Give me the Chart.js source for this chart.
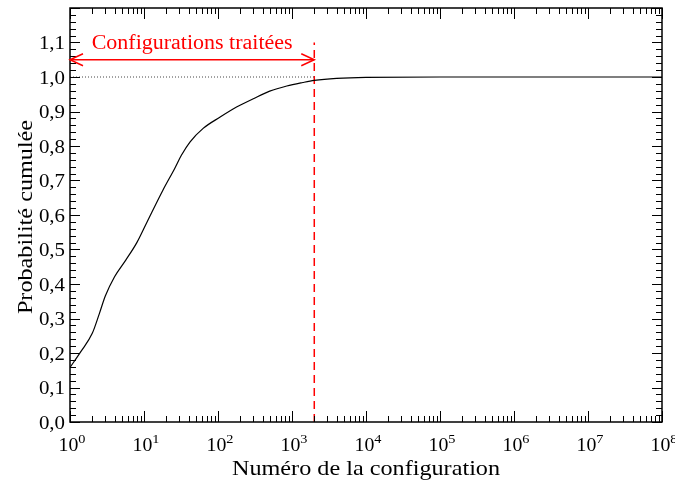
<!DOCTYPE html>
<html>
<head>
<meta charset="utf-8">
<script src="https://cdn.jsdelivr.net/npm/chart.js@4.4.0/dist/chart.umd.min.js"></script>
<style>
  html, body { margin: 0; padding: 0; background: #fff; }
  #wrap { width: 675px; height: 482px; }
</style>
</head>
<body>
<div id="wrap"><canvas id="cumul" width="675" height="482"></canvas></div>
<script>
// cumulative probability against configuration rank (log axis)
const configRank = [1, 1.4, 2, 2.5, 3, 4, 5.7, 8, 11, 18, 26, 32, 42, 63, 107, 178, 300, 500, 850, 1400, 2000, 4000, 10000, 1e5, 1e6, 1e7, 1e8];
const cumulProb  = [0.158, 0.204, 0.257, 0.315, 0.365, 0.421, 0.47, 0.52, 0.58, 0.672, 0.735, 0.773, 0.812, 0.851, 0.884, 0.913, 0.937, 0.959, 0.974, 0.984, 0.99, 0.996, 0.999, 1.0, 1.0, 1.0, 1.0];

const cutoffRank = 2000;   // last configuration processed
const arrowLevel = 1.05;
const cutoffTop = 1.1;
const yTickValues = [0, 0.1, 0.2, 0.3, 0.4, 0.5, 0.6, 0.7, 0.8, 0.9, 1.0, 1.1];
const xDecades = [0, 1, 2, 3, 4, 5, 6, 7, 8];
const spanLabel = 'Configurations traitées';
const xTitle = 'Numéro de la configuration';
const yTitle = 'Probabilité cumulée';

const SERIF = '"Liberation Serif", "DejaVu Serif", serif';
const STRETCH = 1.1;   // text is set a little wide

// draw text widened along its own direction
function wideText(ctx, text, x, y, align) {
  ctx.save();
  ctx.translate(x, y);
  ctx.scale(STRETCH, 1);
  ctx.textAlign = align || 'left';
  ctx.fillText(text, 0, 0);
  ctx.restore();
}

const framePlugin = {
  id: 'frame',
  afterDraw(chart) {
    const { ctx, chartArea: a, scales: { x, y } } = chart;
    ctx.save();
    ctx.strokeStyle = '#000';

    // inward ticks on all four sides
    ctx.lineWidth = 1;
    ctx.beginPath();
    for (let i = 0; i <= 60; i++) {
      const py = Math.round(y.getPixelForValue(i * 0.02)) + 0.5;
      const len = i % 5 === 0 ? 10 : 6;
      ctx.moveTo(a.left, py); ctx.lineTo(a.left + len, py);
      ctx.moveTo(a.right, py); ctx.lineTo(a.right - len, py);
    }
    for (const d of xDecades) {
      for (let m = 1; m <= 9; m++) {
        if (d === 8 && m > 1) break;
        const px = Math.round(x.getPixelForValue(m * Math.pow(10, d))) + 0.5;
        const len = m === 1 ? 11 : 6;
        ctx.moveTo(px, a.bottom); ctx.lineTo(px, a.bottom - len);
        ctx.moveTo(px, a.top); ctx.lineTo(px, a.top + len);
      }
    }
    ctx.stroke();

    // frame
    ctx.lineWidth = 1.5;
    ctx.strokeRect(a.left, a.top, a.right - a.left, a.bottom - a.top);

    ctx.fillStyle = '#000';
    ctx.textBaseline = 'alphabetic';

    // y tick labels with decimal comma
    ctx.font = '19px ' + SERIF;
    for (const v of yTickValues) {
      wideText(ctx, v.toFixed(1).replace('.', ','), a.left - 5, y.getPixelForValue(v) + 6.5, 'right');
    }

    // x tick labels as 10 with exponent
    for (const d of xDecades) {
      const px = x.getPixelForValue(Math.pow(10, d));
      ctx.font = '18px ' + SERIF;
      const wBase = ctx.measureText('10').width * STRETCH;
      ctx.font = '13px ' + SERIF;
      const wExp = ctx.measureText(String(d)).width * STRETCH;
      const left = px - (wBase + wExp) / 2 + 2;
      ctx.font = '18px ' + SERIF;
      wideText(ctx, '10', left, 451);
      ctx.font = '13px ' + SERIF;
      wideText(ctx, String(d), left + wBase, 443);
    }

    // axis titles
    ctx.font = '22px ' + SERIF;
    wideText(ctx, xTitle, (a.left + a.right) / 2, 475, 'center');
    ctx.save();
    ctx.translate(32, (a.top + a.bottom) / 2 + 2);
    ctx.rotate(-Math.PI / 2);
    wideText(ctx, yTitle, 0, 0, 'center');
    ctx.restore();

    // arrowheads and span label
    const ay = y.getPixelForValue(arrowLevel);
    const x0 = x.getPixelForValue(1);
    const x1 = x.getPixelForValue(cutoffRank);
    ctx.strokeStyle = '#ff0000';
    ctx.lineWidth = 1.5;
    ctx.beginPath();
    ctx.moveTo(x0 + 13, ay - 6); ctx.lineTo(x0, ay); ctx.lineTo(x0 + 13, ay + 6);
    ctx.moveTo(x1 - 13, ay - 6); ctx.lineTo(x1, ay); ctx.lineTo(x1 - 13, ay + 6);
    ctx.stroke();
    ctx.fillStyle = '#ff0000';
    ctx.font = '20px ' + SERIF;
    wideText(ctx, spanLabel, (x0 + x1) / 2, 48.5, 'center');
    ctx.restore();
  }
};

new Chart(document.getElementById('cumul'), {
  type: 'line',
  data: {
    datasets: [
      {
        data: configRank.map((r, i) => ({ x: r, y: cumulProb[i] })),
        borderColor: '#000',
        borderWidth: 1.2,
        pointRadius: 0,
        cubicInterpolationMode: 'monotone'
      },
      {
        data: [{ x: 1, y: 1 }, { x: cutoffRank, y: 1 }],
        borderColor: '#444',
        borderWidth: 1,
        borderDash: [1, 2],
        pointRadius: 0
      },
      {
        data: [{ x: cutoffRank, y: 0 }, { x: cutoffRank, y: cutoffTop }],
        borderColor: '#ff0000',
        borderWidth: 1.5,
        borderDash: [8, 5],
        pointRadius: 0
      },
      {
        data: [{ x: 1, y: arrowLevel }, { x: cutoffRank, y: arrowLevel }],
        borderColor: '#ff0000',
        borderWidth: 1.5,
        pointRadius: 0
      }
    ]
  },
  options: {
    responsive: false,
    animation: false,
    layout: { padding: { top: 8, right: 13, left: 0, bottom: 0 } },
    plugins: { legend: { display: false }, tooltip: { enabled: false } },
    scales: {
      x: {
        type: 'logarithmic',
        min: 1,
        max: 1e8,
        grid: { display: false },
        border: { display: false },
        ticks: { display: false },
        afterFit: s => { s.height = 60; }
      },
      y: {
        min: 0,
        max: 1.2,
        grid: { display: false },
        border: { display: false },
        ticks: { display: false },
        afterFit: s => { s.width = 70; }
      }
    }
  },
  plugins: [framePlugin]
});
</script>
</body>
</html>
